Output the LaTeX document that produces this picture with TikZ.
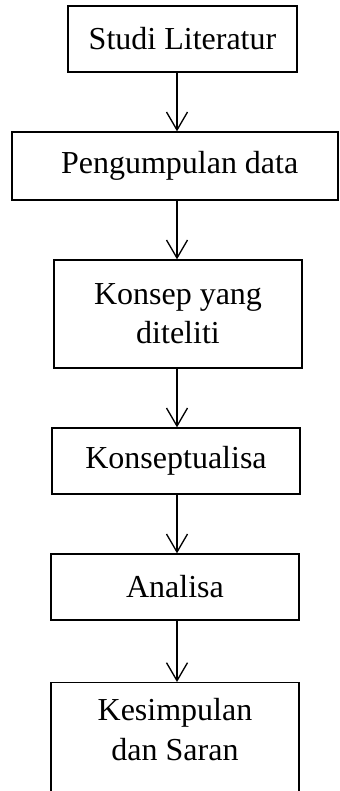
\documentclass[tikz,border=0pt]{standalone}
\usepackage{fontspec}
\setmainfont{Liberation Serif}
\usetikzlibrary{arrows.meta}
\begin{document}
\begin{tikzpicture}[x=0.75pt,y=-0.75pt,
        every node/.style={rectangle,draw,line width=1pt,align=center,inner sep=0pt,
                font=\fontsize{24}{29.5}\selectfont}]
        \tikzset{edge/.style = {-{Straight Barb[length=13.5pt,width=15.75pt]},line width=1pt}}
        \useasboundingbox (0,0) rectangle (339,791);
        \clip (0,0) rectangle (339,791);
        \coordinate (axis) at (177,0);

        \node[minimum width=171.75pt,minimum height=49.5pt] (A) at (182.5,39) {Studi Literatur};
        \node[minimum width=244.5pt,minimum height=51pt] (B) at (175,166) {\hspace*{7pt}Pengumpulan data};
        \node[minimum width=186pt,minimum height=81pt] (C) at (178,314) {Konsep yang\\diteliti};
        \node[minimum width=186pt,minimum height=49.5pt] (D) at (176,461) {Konseptualisa};
        \node[minimum width=186pt,minimum height=49.5pt] (E) at (175,587) {Analisa};
        \node[minimum width=186pt,anchor=north,text height=53.5pt,text depth=100pt,inner ysep=4.5pt] (F) at (175,682) {Kesimpulan\\dan Saran};

        \draw[edge] (A.south -| axis) to (B.north -| axis);
        \draw[edge] (B.south -| axis) to (C.north -| axis);
        \draw[edge] (C.south -| axis) to (D.north -| axis);
        \draw[edge] (D.south -| axis) to (E.north -| axis);
        \draw[edge] (E.south -| axis) to (F.north -| axis);
\end{tikzpicture}
\end{document}
